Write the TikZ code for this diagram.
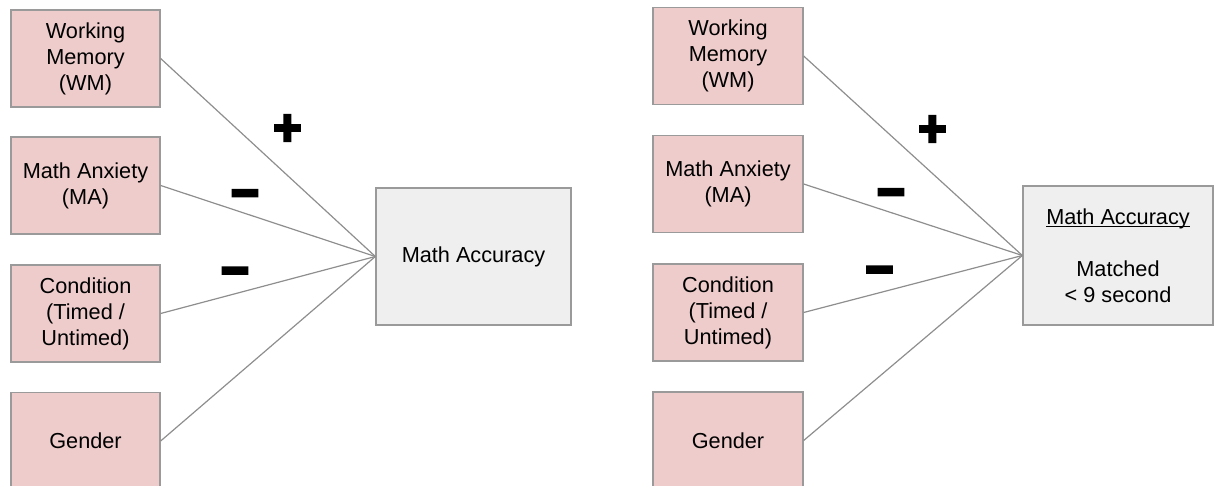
\documentclass[tikz,border=0pt]{standalone}
\usepackage{fontspec}
\setmainfont{Liberation Sans}
\newfontfamily\signfont{Noto Emoji}[FakeBold=7]
\usetikzlibrary{arrows.meta}

\definecolor{factorfill}{HTML}{EFCCCC}
\definecolor{outcomefill}{HTML}{EFEFEF}
\definecolor{boxline}{HTML}{9A9A9A}
\definecolor{pathline}{HTML}{8E8E8E}

% underlined heading with the rule close to the baseline
\newcommand{\headrule}[1]{\setbox0=\hbox{#1}\rlap{\rule[-2.5pt]{\wd0}{1pt}}\box0}

\begin{document}
\begin{tikzpicture}[x=1pt,y=-1pt,
factor box/.style={draw=boxline,fill=factorfill,line width=1.3pt,minimum width=149pt,minimum height=97pt,align=center,inner sep=0pt,font=\fontsize{21.7}{26}\selectfont},
outcome box/.style={factor box,fill=outcomefill},
path line/.style={draw=pathline,line width=1.2pt},
sign/.style={inner sep=0pt,font=\signfont\fontsize{27}{27}\selectfont}]
\useasboundingbox (0,0) rectangle (1214,486);
% left model
\node[factor box] (wmA) at (85.5,58.5) {Working\\Memory\\(WM)};
\node[factor box] (maA) at (85.5,185.5) {Math Anxiety\\(MA)};
\node[factor box] (condA) at (85.5,313.5) {Condition\\(Timed /\\Untimed)};
\node[factor box] (genA) at (85.5,441) {Gender};
\node[outcome box,minimum width=195pt,minimum height=137pt] (accA) at (473.5,256.5) {Math Accuracy};
\draw[path line] (wmA.east) -- (accA.west);
\draw[path line] (maA.east) -- (accA.west);
\draw[path line] (condA.east) -- (accA.west);
\draw[path line] (genA.east) -- (accA.west);
\node[sign] (plusA) at (287.5,128) {➕};
\node[sign] (minusA) at (245,196) {➖};
\node[sign] (minusB) at (235,273.5) {➖};
% right model
\node[factor box,minimum width=150pt] (wmB) at (728,56) {Working\\Memory\\(WM)};
\node[factor box,minimum width=150pt] (maB) at (728,184) {Math Anxiety\\(MA)};
\node[factor box,minimum width=150pt] (condB) at (728,312.5) {Condition\\(Timed /\\Untimed)};
\node[factor box,minimum width=150pt] (genB) at (728,440.5) {Gender};
\node[outcome box,minimum width=190pt,minimum height=139pt] (accB) at (1118,255.5)
  {\headrule{Math Accuracy}\\[26pt]Matched\\\textless{} 9 second};
\draw[path line] (wmB.east) -- (accB.west);
\draw[path line] (maB.east) -- (accB.west);
\draw[path line] (condB.east) -- (accB.west);
\draw[path line] (genB.east) -- (accB.west);
\node[sign] (plusB) at (932.5,129) {➕};
\node[sign] (minusC) at (891,195) {➖};
\node[sign] (minusD) at (879.5,272.5) {➖};
\end{tikzpicture}
\end{document}
